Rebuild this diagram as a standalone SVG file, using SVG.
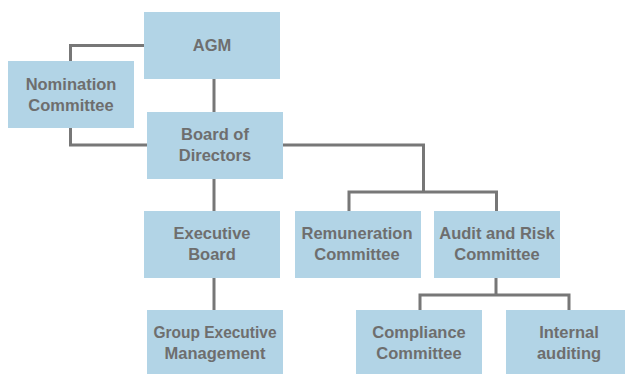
<svg xmlns="http://www.w3.org/2000/svg" width="625" height="374" viewBox="0 0 625 374">
<style>
.box{fill:#b2d4e6}
.t{font-family:"Liberation Sans",Arial,sans-serif;font-weight:bold;font-size:16.5px;fill:#6e6e6e;text-anchor:middle}
.c{fill:none;stroke:#777;stroke-width:3}
</style>
<rect width="625" height="374" fill="#fff"/>
<g id="connectors">
<path class="c" d="M144 45.5H70.5V61"/>
<path class="c" d="M70.5 128V145H147"/>
<path class="c" d="M214 79V112"/>
<path class="c" d="M283 145H423.5V192"/>
<path class="c" d="M349 211V192H496.5V211"/>
<path class="c" d="M214 179V211"/>
<path class="c" d="M214 278V310"/>
<path class="c" d="M496 278V295"/>
<path class="c" d="M420 310V295H569V310"/>
</g>
<g id="agm"><rect class="box" x="144" y="12" width="136" height="67"/><text class="t" x="212" y="51">AGM</text></g>
<g id="nomination"><rect class="box" x="8" y="61" width="126" height="67"/><text class="t" x="71" y="90">Nomination</text><text class="t" x="71" y="110.5">Committee</text></g>
<g id="board"><rect class="box" x="147" y="112" width="136" height="67"/><text class="t" x="215" y="140">Board of</text><text class="t" x="215" y="160.5">Directors</text></g>
<g id="executive-board"><rect class="box" x="144" y="211" width="136" height="67"/><text class="t" x="212" y="239">Executive</text><text class="t" x="212" y="259.5">Board</text></g>
<g id="remuneration"><rect class="box" x="295" y="211" width="126" height="67"/><text class="t" x="357" y="239">Remuneration</text><text class="t" x="357" y="259.5">Committee</text></g>
<g id="audit"><rect class="box" x="434" y="211" width="126" height="67"/><text class="t" x="497" y="239">Audit and Risk</text><text class="t" x="497" y="259.5">Committee</text></g>
<g id="group-executive"><rect class="box" x="147" y="310" width="136" height="67"/><text class="t" x="215" y="338" textLength="123" lengthAdjust="spacingAndGlyphs">Group Executive</text><text class="t" x="215" y="358.5">Management</text></g>
<g id="compliance"><rect class="box" x="356" y="310" width="126" height="67"/><text class="t" x="419" y="338">Compliance</text><text class="t" x="419" y="358.5">Committee</text></g>
<g id="internal"><rect class="box" x="506" y="310" width="126" height="67"/><text class="t" x="569" y="338">Internal</text><text class="t" x="569" y="358.5">auditing</text></g>
</svg>
